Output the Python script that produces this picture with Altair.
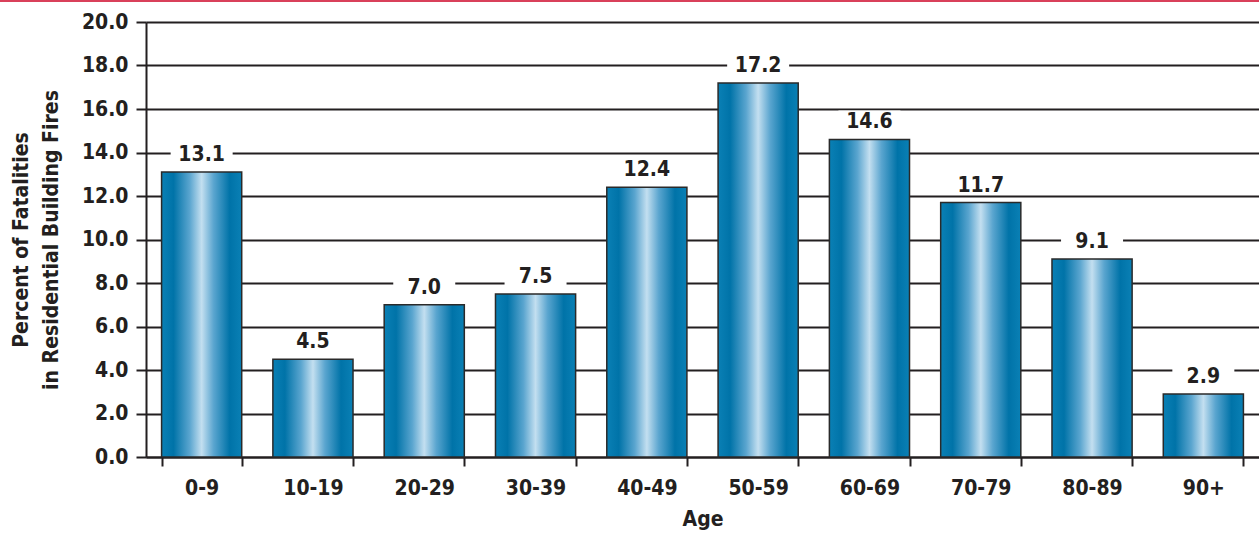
import altair as alt
import pandas as pd

ages = ["0-9", "10-19", "20-29", "30-39", "40-49", "50-59", "60-69", "70-79", "80-89", "90+"]
percents = [13.1, 4.5, 7.0, 7.5, 12.4, 17.2, 14.6, 11.7, 9.1, 2.9]
y_ticks = [0, 2, 4, 6, 8, 10, 12, 14, 16, 18, 20]

df = pd.DataFrame({"age": ages, "pct": percents})

FONT = "DejaVu Sans Condensed, DejaVu Sans, Liberation Sans"
INK = "#231f20"
FS = 21

grad = alt.Gradient(
    gradient="linear",
    x1=0, x2=1, y1=0, y2=0,
    stops=[
        alt.GradientStop(offset=0.0, color="#0a80b5"),
        alt.GradientStop(offset=0.15, color="#0073a8"),
        alt.GradientStop(offset=0.35, color="#5aa5cf"),
        alt.GradientStop(offset=0.5, color="#c3dff0"),
        alt.GradientStop(offset=0.65, color="#5aa5cf"),
        alt.GradientStop(offset=0.85, color="#0073a8"),
        alt.GradientStop(offset=1.0, color="#0a80b5"),
    ],
)

x = alt.X(
    "age:N", sort=ages,
    scale=alt.Scale(paddingInner=0.28, paddingOuter=0.14),
    axis=alt.Axis(
        title="Age", labelAngle=0, tickBand="extent", labelPadding=11,
        labelFont=FONT, labelFontSize=FS, labelFontWeight="bold", labelColor=INK,
        titleFont=FONT, titleFontSize=FS, titleFontWeight="bold", titleColor=INK,
        titlePadding=10, domainColor=INK, domainWidth=2, tickColor=INK,
        tickWidth=2, tickSize=9, grid=False,
    ),
)
y = alt.Y(
    "pct:Q",
    scale=alt.Scale(domain=[0, 20], nice=False),
    axis=alt.Axis(
        title=["Percent of Fatalities", "in Residential Building Fires"],
        values=y_ticks, format=".1f",
        labelFont=FONT, labelFontSize=FS, labelFontWeight="bold", labelColor=INK,
        labelPadding=8,
        titleFont=FONT, titleFontSize=FS, titleFontWeight="bold", titleColor=INK,
        titlePadding=20, titleLineHeight=30,
        domainColor=INK, domainWidth=2, tickColor=INK, tickWidth=2, tickSize=10,
        grid=True, gridColor=INK, gridWidth=2.2, gridOpacity=1,
    ),
)

bars = alt.Chart(df).mark_bar(
    fill=grad, stroke="#2a2a2a", strokeWidth=1.5
).encode(x=x, y=y)

boxes = alt.Chart(df).mark_tick(
    color="white", opacity=1, size=62, thickness=20, yOffset=-19
).encode(x=alt.X("age:N", sort=ages), y="pct:Q")

labels = alt.Chart(df).mark_text(
    font=FONT, fontSize=FS, fontWeight="bold", color=INK,
    baseline="bottom", dy=-7
).encode(x=alt.X("age:N", sort=ages), y="pct:Q", text=alt.Text("pct:Q", format=".1f"))

red = alt.Chart(df).mark_rule(color="#d9405a", strokeWidth=2).encode(
    x=alt.value(-146), x2=alt.value(1113), y=alt.value(-21)
)

chart = alt.layer(bars, boxes, labels, red).properties(
    width=1113, height=435,
    padding={"left": 146, "top": 22, "right": 0, "bottom": 76},
    autosize=alt.AutoSizeParams(type="none"),
).configure_view(stroke=None).configure(background="white")

chart.save("out.html", embed_options={"renderer": "svg", "actions": False})
